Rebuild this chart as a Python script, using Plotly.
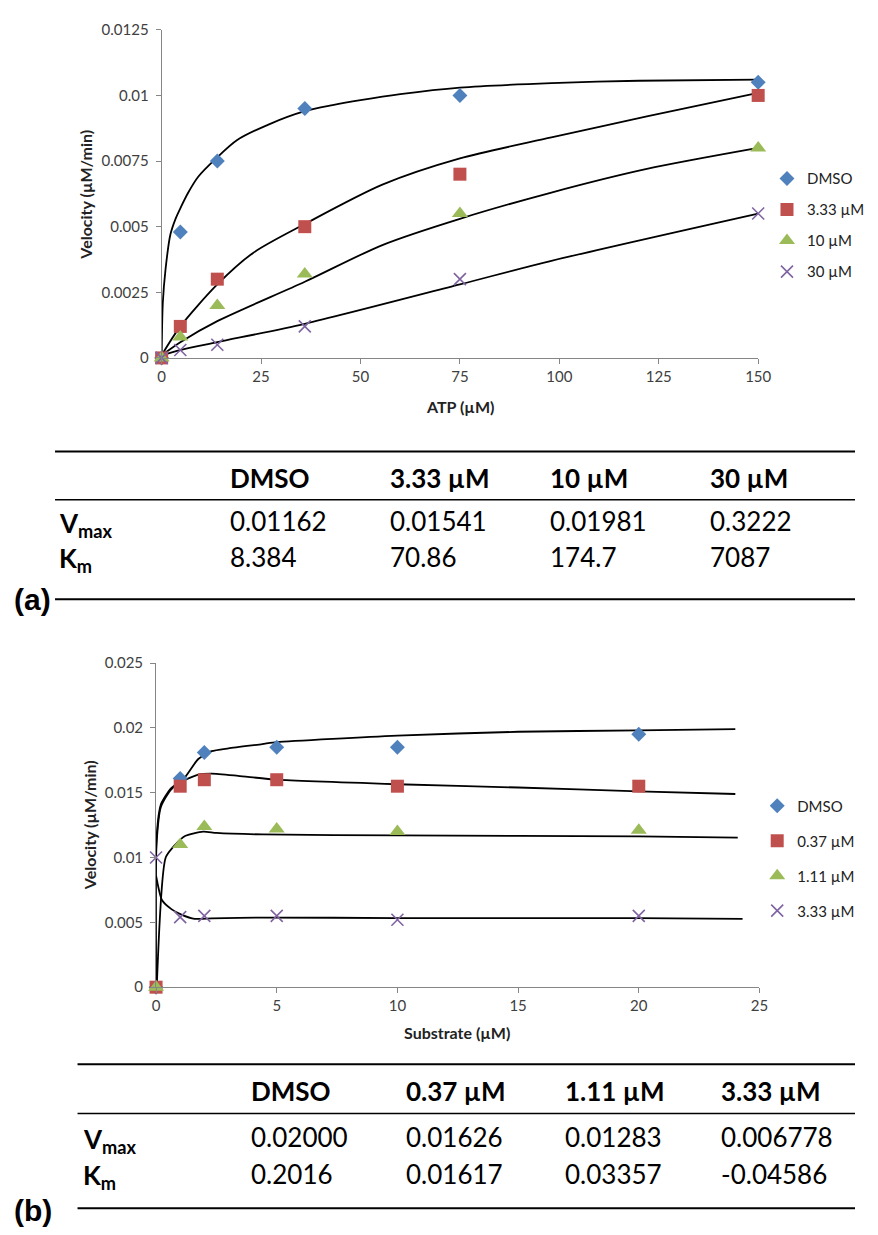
import plotly.graph_objects as go

# viewport is 878x1235 and the page body keeps its default 8px margin,
# so the figure is 16px smaller and placed at (8, 8)
PAGE_W, PAGE_H = 878, 1235
OFF = 8
W, H = PAGE_W - 2 * OFF, PAGE_H - 2 * OFF

# ---------------- Panel (a) data ----------------
a_x = [0, 4.7, 14, 36, 75, 150]
a_names = ["DMSO", "3.33 µM", "10 µM", "30 µM"]
a_dmso = [0, 0.0048, 0.0075, 0.0095, 0.0100, 0.0105]
a_333 = [0, 0.0012, 0.0030, 0.0050, 0.0070, 0.0100]
a_10 = [0, 0.0008, 0.0020, 0.0032, 0.0055, 0.0080]
a_30 = [0, 0.0003, 0.0005, 0.0012, 0.0030, 0.0055]

# fitted curves
a_fit_dmso_x = [0, 0.3, 1, 2.2, 3.5, 4.7, 6.7, 9.2, 13.7, 19, 27, 36, 43, 50, 60, 75, 98, 120, 150]
a_fit_dmso_y = [0, 0.0021, 0.0034, 0.0047, 0.0053, 0.0057, 0.0063, 0.0069, 0.0076, 0.0083, 0.0089,
                0.0094, 0.00963, 0.00982, 0.01005, 0.0103, 0.01047, 0.01056, 0.0106]
a_fit_333_x = [0, 4.7, 14, 23, 36, 55.5, 75, 98, 122, 150]
a_fit_333_y = [0.0001, 0.0012, 0.0028, 0.0040, 0.0051, 0.0066, 0.0076, 0.0084, 0.0092, 0.0101]
a_fit_10_x = [0, 4.7, 14, 36, 55.5, 75, 98, 122, 150]
a_fit_10_y = [0.0001, 0.0006, 0.0014, 0.0029, 0.0043, 0.0053, 0.0063, 0.0072, 0.0080]
a_fit_30_x = [0, 4.7, 14, 36, 75, 98, 150]
a_fit_30_y = [0.0001, 0.0003, 0.0006, 0.0013, 0.0028, 0.0037, 0.0055]

a_xticks = [0, 25, 50, 75, 100, 125, 150]
a_yticks = [0, 0.0025, 0.005, 0.0075, 0.01, 0.0125]
a_yticktext = ["0", "0.0025", "0.005", "0.0075", "0.01", "0.0125"]

# ---------------- Panel (b) data ----------------
b_x = [0, 1, 2, 5, 10, 20]
b_names = ["DMSO", "0.37 µM", "1.11 µM", "3.33 µM"]
b_dmso = [0, 0.0161, 0.0181, 0.0185, 0.0185, 0.0195]
b_037 = [0, 0.0155, 0.0160, 0.0160, 0.0155, 0.0155]
b_111 = [0, 0.0110, 0.0124, 0.0122, 0.0120, 0.0121]
b_333 = [0.0100, 0.0054, 0.0055, 0.0055, 0.0052, 0.0055]

b_fit_dmso_x = [0, 0.02, 0.2, 0.6, 1.2, 1.75, 2.3, 3, 4.4, 5, 10, 15, 20, 24]
b_fit_dmso_y = [0, 0.0115, 0.0141, 0.0153, 0.0162, 0.0176, 0.0182, 0.01842, 0.01875, 0.0189,
                0.0194, 0.0197, 0.0198, 0.0199]
b_fit_037_x = [0, 0.02, 0.2, 0.6, 1, 1.75, 2.3, 3.4, 5, 10, 15, 20, 24]
b_fit_037_y = [0, 0.0110, 0.0139, 0.0152, 0.0158, 0.0164, 0.01647, 0.0163, 0.0160, 0.01565,
               0.0154, 0.0151, 0.0149]
b_fit_111_x = [0.03, 0.4, 0.8, 1.2, 1.95, 2.5, 4.4, 10, 20, 24.1]
b_fit_111_y = [0, 0.0100, 0.0110, 0.01166, 0.0120, 0.0119, 0.01178, 0.0117, 0.01163, 0.01153]
b_fit_333_x = [0, 0.25, 0.65, 1.05, 1.6, 2.3, 4.4, 10, 20, 24.3]
b_fit_333_y = [0.0086, 0.0067, 0.0060, 0.0056, 0.00527, 0.0053, 0.00537, 0.00533, 0.00532, 0.00527]

b_xticks = [0, 5, 10, 15, 20, 25]
b_yticks = [0, 0.005, 0.01, 0.015, 0.02, 0.025]
b_yticktext = ["0", "0.005", "0.01", "0.015", "0.02", "0.025"]

# ---------------- Tables ----------------
tab_a_header = ["DMSO", "3.33 µM", "10 µM", "30 µM"]
tab_a_vmax = ["0.01162", "0.01541", "0.01981", "0.3222"]
tab_a_km = ["8.384", "70.86", "174.7", "7087"]
tab_b_header = ["DMSO", "0.37 µM", "1.11 µM", "3.33 µM"]
tab_b_vmax = ["0.02000", "0.01626", "0.01283", "0.006778"]
tab_b_km = ["0.2016", "0.01617", "0.03357", "-0.04586"]

# ---------------- Styles ----------------
colors = ["#4F81BD", "#C0504D", "#9BBB59", "#8064A2"]
FONT = "Lato, 'Open Sans', sans-serif"
TICKC = "#404040"
AXC = "#868686"


def markers(i):
    if i == 0:
        return dict(symbol="diamond", size=11.5, color=colors[0])
    if i == 1:
        return dict(symbol="square", size=13, color=colors[1])
    if i == 2:
        return dict(symbol="triangle-up", size=14, color=colors[2])
    return dict(symbol="x-thin", size=12, color=colors[3], line=dict(width=1.6, color=colors[3]))


def px2x(p):
    return (p - OFF) / W


def px2y(p):
    return 1 - (p - OFF) / H


fig = go.Figure()

a_fits = [(a_fit_dmso_x, a_fit_dmso_y), (a_fit_333_x, a_fit_333_y),
          (a_fit_10_x, a_fit_10_y), (a_fit_30_x, a_fit_30_y)]
for fx, fy in a_fits:
    fig.add_trace(go.Scatter(x=fx, y=fy, mode="lines",
                             line=dict(color="black", width=1.8, shape="spline", smoothing=0.8),
                             showlegend=False, hoverinfo="skip", xaxis="x", yaxis="y", cliponaxis=False))
for i, ys in enumerate([a_dmso, a_333, a_10, a_30]):
    fig.add_trace(go.Scatter(x=a_x, y=ys, mode="markers", name=a_names[i], marker=markers(i),
                             legend="legend", legendgroup="a%d" % i, xaxis="x", yaxis="y", cliponaxis=False))

b_fits = [(b_fit_dmso_x, b_fit_dmso_y), (b_fit_037_x, b_fit_037_y),
          (b_fit_111_x, b_fit_111_y), (b_fit_333_x, b_fit_333_y)]
for fx, fy in b_fits:
    fig.add_trace(go.Scatter(x=fx, y=fy, mode="lines",
                             line=dict(color="black", width=1.8, shape="spline", smoothing=0.6),
                             showlegend=False, hoverinfo="skip", xaxis="x2", yaxis="y2", cliponaxis=False))
for i, ys in enumerate([b_dmso, b_037, b_111, b_333]):
    fig.add_trace(go.Scatter(x=b_x, y=ys, mode="markers", name=b_names[i], marker=markers(i),
                             legend="legend2", legendgroup="b%d" % i, xaxis="x2", yaxis="y2", cliponaxis=False))

axis_common = dict(showline=True, linecolor=AXC, linewidth=1, ticks="outside", ticklen=5, tickcolor=AXC,
                   showgrid=False, zeroline=False, tickfont=dict(family=FONT, size=15, color=TICKC))

# plot areas in page pixels: (a) x 161..771, y 20..353 ; (b) x 155..772, y 663..992
fig.update_layout(
    xaxis=dict(domain=[px2x(161), px2x(771)], range=[0, 150], tickvals=a_xticks, anchor="y", **axis_common),
    yaxis=dict(domain=[px2y(353), px2y(20)], range=[0, 0.0125], tickvals=a_yticks, ticktext=a_yticktext,
               anchor="x", ticklabelstandoff=4, **axis_common),
    xaxis2=dict(domain=[px2x(155.3), px2x(772.3)], range=[0, 25], tickvals=b_xticks, anchor="y2", **axis_common),
    yaxis2=dict(domain=[px2y(991.7), px2y(662.7)], range=[0, 0.025], tickvals=b_yticks, ticktext=b_yticktext,
                anchor="x2", ticklabelstandoff=4, **axis_common),
)

legend_common = dict(font=dict(family=FONT, size=15, color="#222"), bgcolor="rgba(0,0,0,0)",
                     xanchor="left", yanchor="top", itemclick=False)
fig.update_layout(
    legend=dict(x=px2x(780), y=px2y(154.5), tracegroupgap=8.5, **legend_common),
    legend2=dict(x=px2x(770), y=px2y(791), tracegroupgap=12.5, **legend_common),
)

ann = []
shapes = []
TITLEF = dict(family=FONT, size=16, color="#222")
ann.append(dict(text="<b>ATP (µM)</b>", x=px2x(466), y=px2y(402), xref="paper", yref="paper",
                showarrow=False, font=TITLEF, xanchor="center", yanchor="middle"))
ann.append(dict(text="<b>Velocity (µM/min)</b>", x=px2x(83), y=px2y(187), xref="paper", yref="paper",
                showarrow=False, textangle=-90, font=TITLEF, xanchor="center", yanchor="middle"))
ann.append(dict(text="<b>Substrate (µM)</b>", x=px2x(463), y=px2y(1038), xref="paper", yref="paper",
                showarrow=False, font=TITLEF, xanchor="center", yanchor="middle"))
ann.append(dict(text="<b>Velocity (µM/min)</b>", x=px2x(88), y=px2y(827), xref="paper", yref="paper",
                showarrow=False, textangle=-90, font=TITLEF, xanchor="center", yanchor="middle"))

TFONT = "Lato, sans-serif"
TSIZE = 26


def table(header, vmax, km, label_x, col_x, y_top, y_mid, y_bot, y_head, y_vmax, y_km, line_x0, letter, letter_y):
    for yy, wdt in ((y_top, 2), (y_mid, 1.5), (y_bot, 2)):
        shapes.append(dict(type="line", xref="paper", yref="paper", x0=px2x(line_x0), x1=1,
                           y0=px2y(yy), y1=px2y(yy), line=dict(color="black", width=wdt)))
    for j, cx in enumerate(col_x):
        for txt, yy in (("<b>%s</b>" % header[j], y_head), (vmax[j], y_vmax), (km[j], y_km)):
            ann.append(dict(text=txt, x=px2x(cx), y=px2y(yy), xref="paper", yref="paper",
                            showarrow=False, xanchor="left", yanchor="middle",
                            font=dict(family=TFONT, size=TSIZE, color="black")))
    ann.append(dict(text="<b>V<sub>max</sub></b>", x=px2x(label_x), y=px2y(y_vmax + 3), xref="paper", yref="paper",
                    showarrow=False, xanchor="left", yanchor="middle",
                    font=dict(family=TFONT, size=TSIZE, color="black")))
    ann.append(dict(text="<b>K<sub>m</sub></b>", x=px2x(label_x), y=px2y(y_km + 3), xref="paper", yref="paper",
                    showarrow=False, xanchor="left", yanchor="middle",
                    font=dict(family=TFONT, size=TSIZE, color="black")))
    ann.append(dict(text="<b>%s</b>" % letter, x=px2x(8), y=px2y(letter_y), xref="paper", yref="paper",
                    showarrow=False, xanchor="left", yanchor="middle",
                    font=dict(family="Liberation Sans, Arial, sans-serif", size=30, color="black")))


table(tab_a_header, tab_a_vmax, tab_a_km, 54, [229, 392, 556, 720],
      448, 497, 598, 475, 519, 555, 52, "(a)", 598)
table(tab_b_header, tab_b_vmax, tab_b_km, 79, [250, 409, 571, 731],
      1070, 1120, 1216, 1097, 1144, 1181, 75, "(b)", 1218)

fig.update_layout(width=W, height=H, margin=dict(l=0, r=0, t=0, b=0), paper_bgcolor="white",
                  plot_bgcolor="rgba(0,0,0,0)", annotations=ann, shapes=shapes, autosize=False,
                  hovermode=False)

fig.write_html("out.html", config={"displayModeBar": False})
